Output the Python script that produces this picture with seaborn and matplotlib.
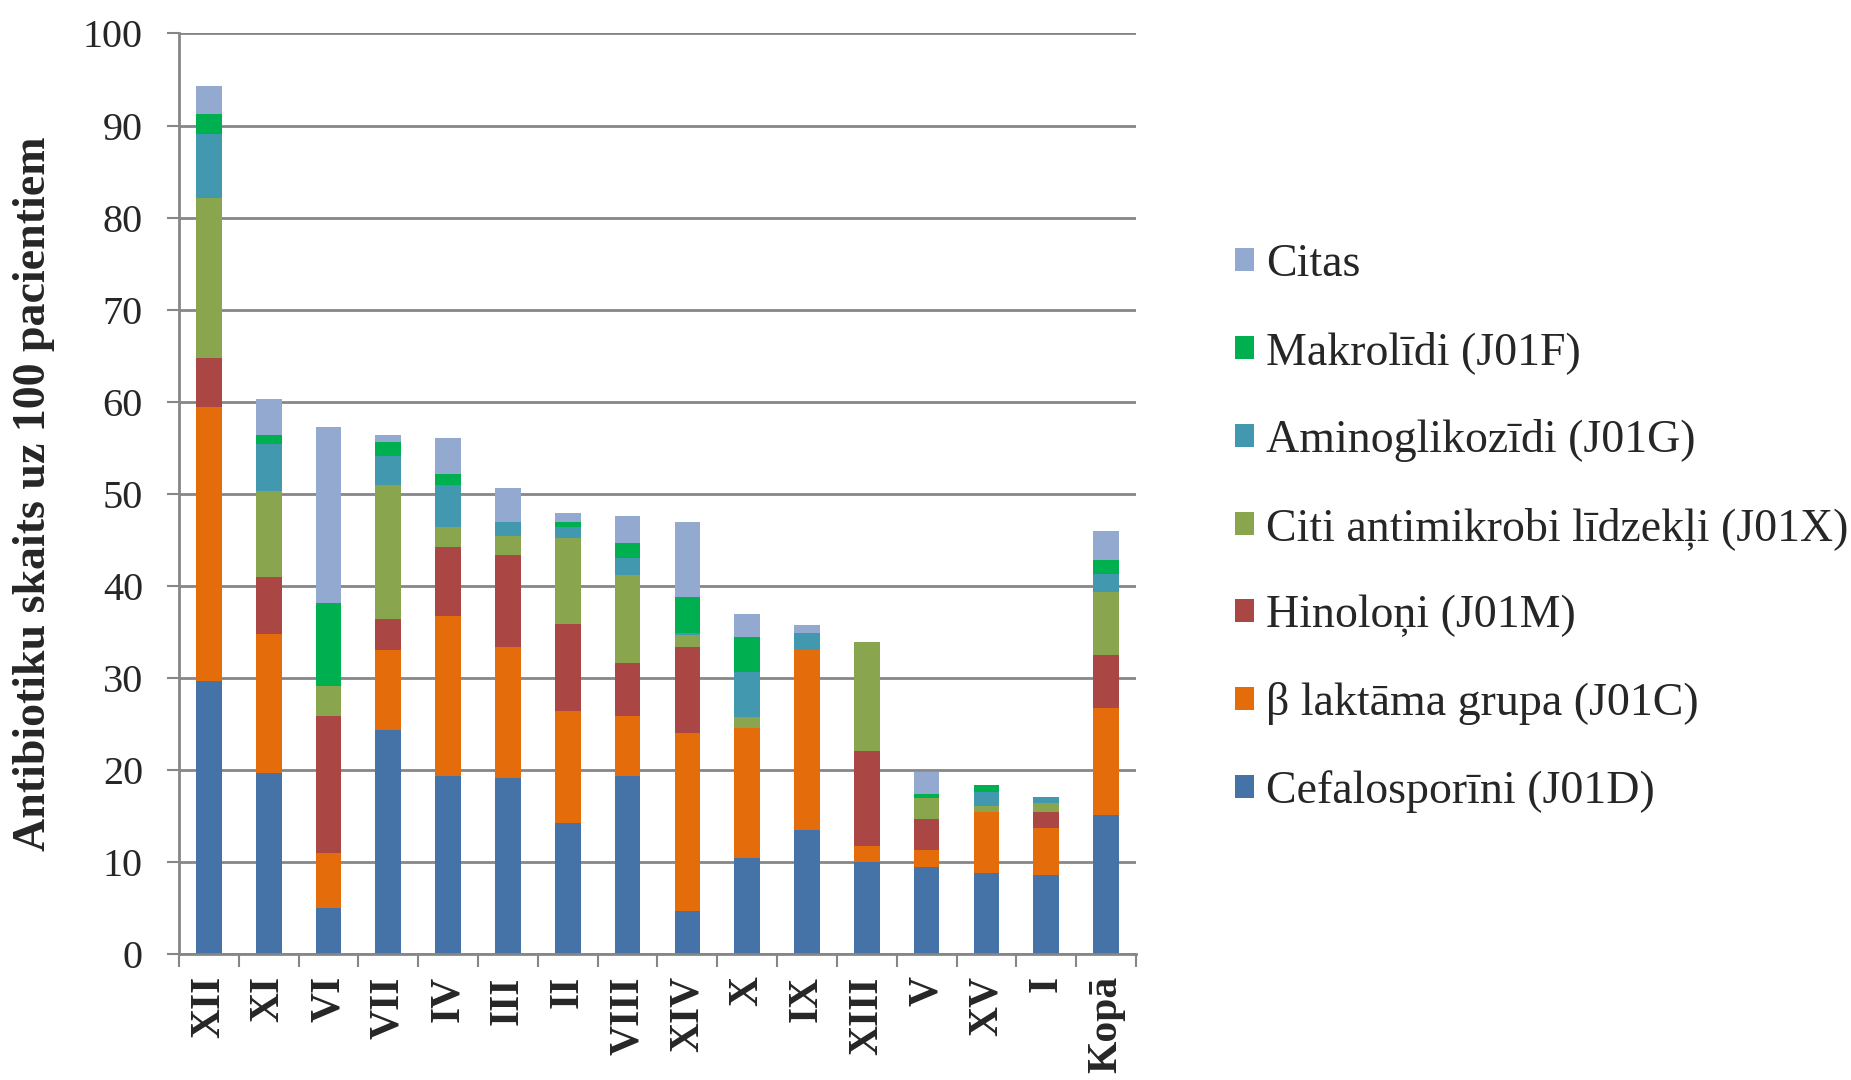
import numpy as np
import pandas as pd
import matplotlib
matplotlib.use("Agg")
import matplotlib.pyplot as plt
import seaborn as sns
from matplotlib.patches import Patch

categories = ["XII", "XI", "VI", "VII", "IV", "III", "II", "VIII",
              "XIV", "X", "IX", "XIII", "V", "XV", "I", "Kopā"]

cefalosporini = [29.7, 19.7, 5.0, 24.3, 19.3, 19.1, 14.2, 19.3, 4.7, 10.4, 13.5, 10.0, 9.4, 8.8, 8.6, 15.1]
beta_laktami = [29.7, 15.1, 6.0, 8.7, 17.4, 14.3, 12.2, 6.6, 19.3, 14.1, 19.5, 1.7, 1.9, 6.6, 5.1, 11.6]
hinoloni = [5.3, 6.1, 14.9, 3.4, 7.5, 9.9, 9.4, 5.7, 9.4, 0.0, 0.0, 10.3, 3.4, 0.0, 1.7, 5.8]
citi_antimikrobi = [17.4, 9.4, 3.2, 14.5, 2.2, 2.1, 9.4, 9.6, 1.3, 1.2, 0.0, 11.9, 2.2, 0.7, 1.0, 6.8]
aminoglikozidi = [7.0, 5.1, 0.0, 3.2, 4.5, 1.5, 1.2, 1.8, 0.2, 4.9, 1.9, 0.0, 0.0, 1.5, 0.7, 2.0]
makrolidi = [2.2, 1.0, 9.0, 1.5, 1.2, 0.0, 0.5, 1.7, 3.9, 3.8, 0.0, 0.0, 0.5, 0.8, 0.0, 1.5]
citas = [3.0, 3.9, 19.1, 0.8, 3.9, 3.7, 1.0, 2.9, 8.1, 2.5, 0.8, 0.0, 2.4, 0.0, 0.0, 3.1]

series_names = ["Cefalosporīni (J01D)", "β laktāma grupa (J01C)", "Hinoloņi (J01M)",
                "Citi antimikrobi līdzekļi (J01X)", "Aminoglikozīdi (J01G)",
                "Makrolīdi (J01F)", "Citas"]
series_values = [cefalosporini, beta_laktami, hinoloni, citi_antimikrobi,
                 aminoglikozidi, makrolidi, citas]
colors = ["#4572A7", "#E46C0A", "#AA4643", "#89A54E", "#4198AF", "#00B050", "#93A9CF"]

df = pd.DataFrame(dict(zip(series_names, series_values)), index=categories)
cum = df.cumsum(axis=1)

sns.set_style("white")
plt.rcParams["font.family"] = ["Liberation Serif", "DejaVu Serif"]

fig = plt.figure(figsize=(18.51, 10.80), dpi=100)
ax = fig.add_axes([0.0967, 0.1167, 0.517, 0.8523])

grid_col = "#868686"
ax.set_axisbelow(True)
ax.yaxis.grid(True, color=grid_col, linewidth=2)

# overlapping cumulative bars, top layer first
for name, col in reversed(list(zip(series_names, colors))):
    sns.barplot(x=categories, y=cum[name].values, color=col, width=0.43,
                ax=ax, saturation=1, edgecolor="none", linewidth=0)

ax.set_xlim(-0.5, len(categories) - 0.5)
ax.set_ylim(0, 100)
ax.set_yticks(np.arange(0, 101, 10))

for s in ["top", "right"]:
    ax.spines[s].set_visible(False)
for s in ["left", "bottom"]:
    ax.spines[s].set_color(grid_col)
    ax.spines[s].set_linewidth(2)

ax.tick_params(axis="y", which="major", length=9, width=1.5, color=grid_col,
               direction="out", labelsize=29, pad=17, left=True)
ax.set_xticks(np.arange(-0.5, len(categories), 1), minor=True)
ax.tick_params(axis="x", which="minor", length=9, width=1.5, color=grid_col,
               direction="out", bottom=True)
ax.tick_params(axis="x", which="major", length=0, pad=16)
ax.set_xticklabels(categories, rotation=90, fontsize=30, fontweight="bold", va="top")

ax.set_ylabel("Antibiotiku skaits uz 100 pacientiem", fontsize=33, fontweight="bold", labelpad=20)
ax.set_xlabel("")

handles = [Patch(facecolor=c, edgecolor="none") for c in colors]
fig.legend(handles[::-1], series_names[::-1], loc="center left",
           bbox_to_anchor=(0.655, 0.511), frameon=False, fontsize=33,
           handlelength=0.41, handleheight=0.41, handletextpad=0.26,
           labelspacing=0.98, borderpad=0)

fig.savefig("out.png", dpi=100)
